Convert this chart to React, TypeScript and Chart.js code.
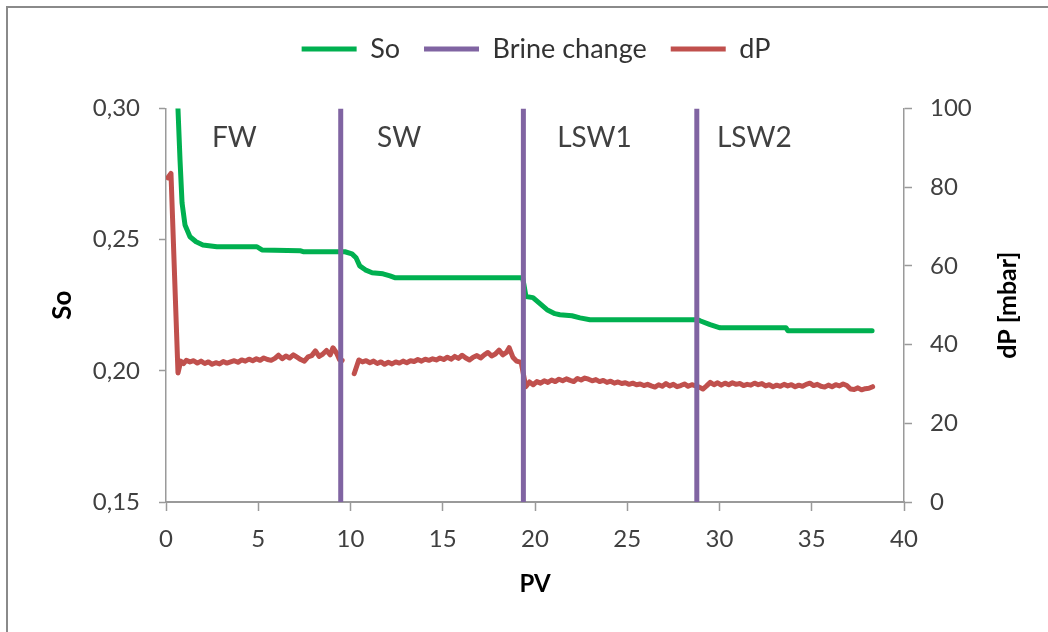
import React, { useEffect, useRef } from "react";
import { Chart, registerables } from "chart.js";

Chart.register(...registerables);

// ---- Data ----
const soPV = [0.62, 0.76, 0.87, 1.03, 1.3, 1.63, 2.0, 2.76, 4.93, 5.2, 7.26, 7.43, 9.7, 10.08, 10.3, 10.5, 10.8, 11.17, 11.76, 12.14, 12.4, 19.33, 19.4, 19.51, 19.89, 20.27, 20.65, 21.08, 21.35, 22.0, 22.44, 22.98, 28.78, 28.94, 29.49, 30.03, 33.6, 33.71, 38.27];
const soValues = [0.305, 0.2803, 0.264, 0.2556, 0.2511, 0.2492, 0.248, 0.2473, 0.2473, 0.2461, 0.2458, 0.2454, 0.2454, 0.2446, 0.2431, 0.24, 0.2385, 0.2374, 0.237, 0.2362, 0.2355, 0.2355, 0.2328, 0.2283, 0.2279, 0.2256, 0.2233, 0.2218, 0.2214, 0.221, 0.2202, 0.2195, 0.2195, 0.2191, 0.2176, 0.2164, 0.2164, 0.2153, 0.2153];

const dpPV = [
  0.1, 0.27, 0.65, 0.8, 0.95, 1.1, 1.3, 1.5, 1.7, 1.9, 2.1, 2.3, 2.5, 2.7, 2.9, 3.1, 3.3, 3.5, 3.7, 3.9,
  4.1, 4.3, 4.5, 4.7, 4.9, 5.1, 5.3, 5.5, 5.7, 5.9, 6.1, 6.3, 6.5, 6.7, 6.9, 7.1, 7.3, 7.5, 7.7, 7.9,
  8.1, 8.3, 8.5, 8.7, 8.9, 9.05, 9.25, 9.4, 9.55, 9.85,
  10.2, 10.45, 10.65, 10.85, 11.05, 11.25, 11.45, 11.65, 11.85, 12.05, 12.25, 12.45, 12.65, 12.85, 13.05, 13.25, 13.45, 13.65, 13.85, 14.05,
  14.25, 14.45, 14.65, 14.85, 15.05, 15.25, 15.45, 15.65, 15.85, 16.05, 16.25, 16.45, 16.65, 16.85, 17.05, 17.25, 17.45, 17.65, 17.85, 18.05,
  18.25, 18.45, 18.6, 18.8, 19.0, 19.25, 19.5,
  19.7, 19.9, 20.1, 20.3, 20.5, 20.7, 20.9, 21.1, 21.3, 21.5, 21.7, 21.9, 22.1, 22.3, 22.5, 22.7, 22.9, 23.1, 23.3, 23.5,
  23.7, 23.9, 24.1, 24.3, 24.5, 24.7, 24.9, 25.1, 25.3, 25.5, 25.7, 25.9, 26.1, 26.3, 26.5, 26.7, 26.9, 27.1, 27.3, 27.5,
  27.7, 27.9, 28.1, 28.3, 28.5, 28.7, 28.9, 29.1,
  29.3, 29.5, 29.7, 29.9, 30.1, 30.3, 30.5, 30.7, 30.9, 31.1, 31.3, 31.5, 31.7, 31.9, 32.1, 32.3, 32.5, 32.7, 32.9, 33.1,
  33.3, 33.5, 33.7, 33.9, 34.1, 34.3, 34.5, 34.7, 34.9, 35.1, 35.3, 35.5, 35.7, 35.9, 36.1, 36.3, 36.5, 36.7, 36.9, 37.1,
  37.3, 37.5, 37.7, 37.9, 38.1, 38.3,
];
const dpValues = [
  82.4, 83.5, 32.8, 35.8, 35.2, 36.0, 35.6, 35.9, 35.3, 35.8, 35.2, 35.6, 35.0, 35.4, 35.1, 35.7, 35.3, 35.6, 35.9, 35.5,
  36.1, 35.8, 36.3, 35.9, 36.4, 36.0, 36.6, 36.2, 36.0, 36.5, 37.3, 36.4, 37.1, 36.6, 37.4, 36.8, 36.2, 35.8, 36.9, 37.2,
  38.4, 37.0, 37.6, 38.5, 37.4, 39.2, 37.8, 36.2, 36.0, null,
  32.6, 36.1, 35.6, 35.9, 35.4, 35.8, 35.2, 35.6, 35.0, 35.5, 35.1, 35.6, 35.3, 35.8, 35.4, 35.9, 35.7, 36.2, 35.8, 36.3,
  36.0, 36.4, 36.1, 36.6, 36.2, 36.8, 36.3, 37.0, 36.5, 37.3, 36.6, 36.1, 36.8, 37.2, 36.6, 37.4, 38.0, 37.1, 37.6, 38.6,
  37.4, 38.0, 39.2, 36.8, 35.8, 35.5, 29.3,
  30.5, 29.8, 30.6, 30.2, 30.8, 30.4, 31.0, 30.6, 31.2, 30.8, 31.3, 30.9, 30.6, 31.4, 31.0, 31.5, 31.2, 30.8, 31.1, 30.6,
  30.9, 30.4, 30.7, 30.2, 30.5, 30.1, 30.3, 29.9, 30.2, 29.8, 30.0, 29.6, 29.9, 29.5, 29.2, 29.8, 29.4, 30.1, 29.5, 29.9,
  29.3, 29.6, 30.0, 29.4, 29.8, 29.5, 29.2, 28.7,
  29.5, 30.4, 29.8, 30.3, 29.7, 30.2, 29.8, 30.3, 29.9, 30.1, 29.6, 29.9, 29.7, 30.2, 29.8, 30.1, 29.5, 29.8, 29.3, 29.7,
  29.4, 29.9, 29.5, 29.8, 29.3, 29.7, 29.4, 29.9, 30.2, 29.6, 29.9, 29.4, 29.2, 29.7, 29.3, 29.8, 29.5, 30.0, 29.6, 28.7,
  28.6, 29.0, 28.5, 28.8, 28.9, 29.3,
];

const brinePV = [9.47, 19.37, 28.77];
const phaseLabels = ["FW", "SW", "LSW1", "LSW2"];
const phaseLabelPV = [2.49, 11.44, 21.2, 29.86];
const phaseLabelSo = 0.2886;

const pvTicks = [0, 5, 10, 15, 20, 25, 30, 35, 40];
const soTicks = [0.15, 0.2, 0.25, 0.3];
const dpTicks = [0, 20, 40, 60, 80, 100];

const FONT = "Lato";
const AXIS_COLOR = "#9a9a9a";
const TEXT_COLOR = "#404040";
const TICK_SIZE = 24;

const overlayPlugin = {
  id: "overlay",
  afterDatasetsDraw(chart: any) {
    const { ctx, chartArea, scales } = chart;
    ctx.save();
    ctx.font = `28px ${FONT}`;
    ctx.fillStyle = TEXT_COLOR;
    ctx.textAlign = "left";
    ctx.textBaseline = "middle";
    phaseLabels.forEach((t, i) => {
      ctx.fillText(t, scales.x.getPixelForValue(phaseLabelPV[i]), scales.y.getPixelForValue(phaseLabelSo));
    });
    ctx.restore();

    ctx.save();
    ctx.translate(chartArea.right + 104, (chartArea.top + chartArea.bottom) / 2);
    ctx.rotate(-Math.PI / 2);
    ctx.font = `bold 25px ${FONT}`;
    ctx.fillStyle = "#000";
    ctx.textAlign = "center";
    ctx.textBaseline = "middle";
    ctx.fillText("dP [mbar]", 0, 0);
    ctx.restore();
  },
};

export default function App() {
  const ref = useRef<HTMLCanvasElement>(null);

  useEffect(() => {
    if (!ref.current) return;
    const soData = soPV.map((x, i) => ({ x, y: soValues[i] }));
    const dpData = dpPV.map((x, i) => ({ x, y: dpValues[i] }));
    const brineData: any[] = [];
    brinePV.forEach((x) => {
      brineData.push({ x, y: soTicks[0] }, { x, y: soTicks[soTicks.length - 1] }, { x, y: null });
    });

    const chart = new Chart(ref.current, {
      type: "line",
      data: {
        datasets: [
          {
            label: "So",
            data: soData,
            borderColor: "#00b050",
            backgroundColor: "#00b050",
            pointBorderColor: "#00b050",
            borderWidth: 5,
            pointBorderWidth: 5,
            pointRadius: 0,
            borderJoinStyle: "round",
            borderCapStyle: "round",
            yAxisID: "y",
            order: 1,
            clip: 0,
          },
          {
            label: "Brine change",
            data: brineData,
            borderColor: "#8064a2",
            backgroundColor: "#8064a2",
            pointBorderColor: "#8064a2",
            borderWidth: 5,
            pointBorderWidth: 5,
            pointRadius: 0,
            yAxisID: "y",
            order: 0,
          },
          {
            label: "dP",
            data: dpData,
            borderColor: "#c0504d",
            backgroundColor: "#c0504d",
            pointBorderColor: "#c0504d",
            borderWidth: 5,
            pointBorderWidth: 5,
            pointRadius: 0,
            borderJoinStyle: "round",
            borderCapStyle: "round",
            yAxisID: "y1",
            order: 2,
          },
        ] as any,
      },
      options: {
        responsive: false,
        animation: false,
        devicePixelRatio: 1,
        font: { family: FONT },
        layout: { padding: { left: 24, right: 0, top: 11.5, bottom: 0 } },
        plugins: {
          legend: {
            position: "top",
            labels: {
              usePointStyle: true,
              pointStyle: "line",
              pointStyleWidth: 55,
              padding: 24,
              color: "#333",
              font: { size: 27, family: FONT },
              sort: (a: any, b: any) => a.datasetIndex - b.datasetIndex,
            },
          },
          title: {
            display: true,
            text: "",
            weight: 500,
            font: { size: 10 },
            padding: { top: 24, bottom: 0 },
          } as any,
          tooltip: { enabled: false },
        },
        scales: {
          x: {
            type: "linear",
            position: "bottom",
            min: 0,
            max: 40,
            afterBuildTicks: (s: any) => {
              s.ticks = pvTicks.map((v) => ({ value: v }));
            },
            ticks: { font: { size: TICK_SIZE, family: FONT }, color: TEXT_COLOR, padding: 14 },
            grid: { drawOnChartArea: false, tickLength: 9, tickColor: AXIS_COLOR, tickWidth: 1.5 },
            border: { color: AXIS_COLOR, width: 2 },
            title: {
              display: true,
              text: "PV",
              color: "#000",
              font: { size: 24, weight: "bold", family: FONT },
              padding: { top: 0, bottom: 33 },
            },
            afterFit: (s: any) => {
              s.height = 130;
            },
          },
          y: {
            type: "linear",
            position: "left",
            min: 0.15,
            max: 0.3,
            afterBuildTicks: (s: any) => {
              s.ticks = soTicks.map((v) => ({ value: v }));
            },
            ticks: {
              font: { size: TICK_SIZE, family: FONT },
              color: TEXT_COLOR,
              padding: 19,
              callback: (v: any) => Number(v).toFixed(2).replace(".", ","),
            },
            grid: { drawOnChartArea: false, tickLength: 7, tickColor: AXIS_COLOR, tickWidth: 1.5 },
            border: { color: AXIS_COLOR, width: 1.5 },
            title: {
              display: true,
              text: "So",
              color: "#000",
              font: { size: 26, weight: "bold", family: FONT },
              padding: { top: 23, bottom: 0 },
            },
            afterFit: (s: any) => {
              s.width = 142;
            },
          },
          y1: {
            type: "linear",
            position: "right",
            min: 0,
            max: 100,
            afterBuildTicks: (s: any) => {
              s.ticks = dpTicks.map((v) => ({ value: v }));
            },
            ticks: { font: { size: TICK_SIZE, family: FONT }, color: TEXT_COLOR, padding: 18 },
            grid: { drawOnChartArea: false, tickLength: 8, tickColor: AXIS_COLOR, tickWidth: 1.5 },
            border: { color: AXIS_COLOR, width: 1.5 },
            afterFit: (s: any) => {
              s.width = 144;
            },
          },
        },
      } as any,
      plugins: [overlayPlugin],
    });
    return () => chart.destroy();
  }, []);

  return (
    <div
      style={{
        position: "fixed",
        left: 0,
        top: 0,
        width: 1048,
        height: 632,
        overflow: "hidden",
        background: "#fff",
      }}
    >
      <div
        style={{
          position: "absolute",
          left: 6,
          top: 6,
          width: 1100,
          height: 700,
          border: "2px solid #8a8a8a",
          boxSizing: "border-box",
        }}
      />
      <canvas
        ref={ref}
        width={1048}
        height={632}
        style={{ position: "absolute", left: 0, top: 0, width: 1048, height: 632 }}
      />
    </div>
  );
}
